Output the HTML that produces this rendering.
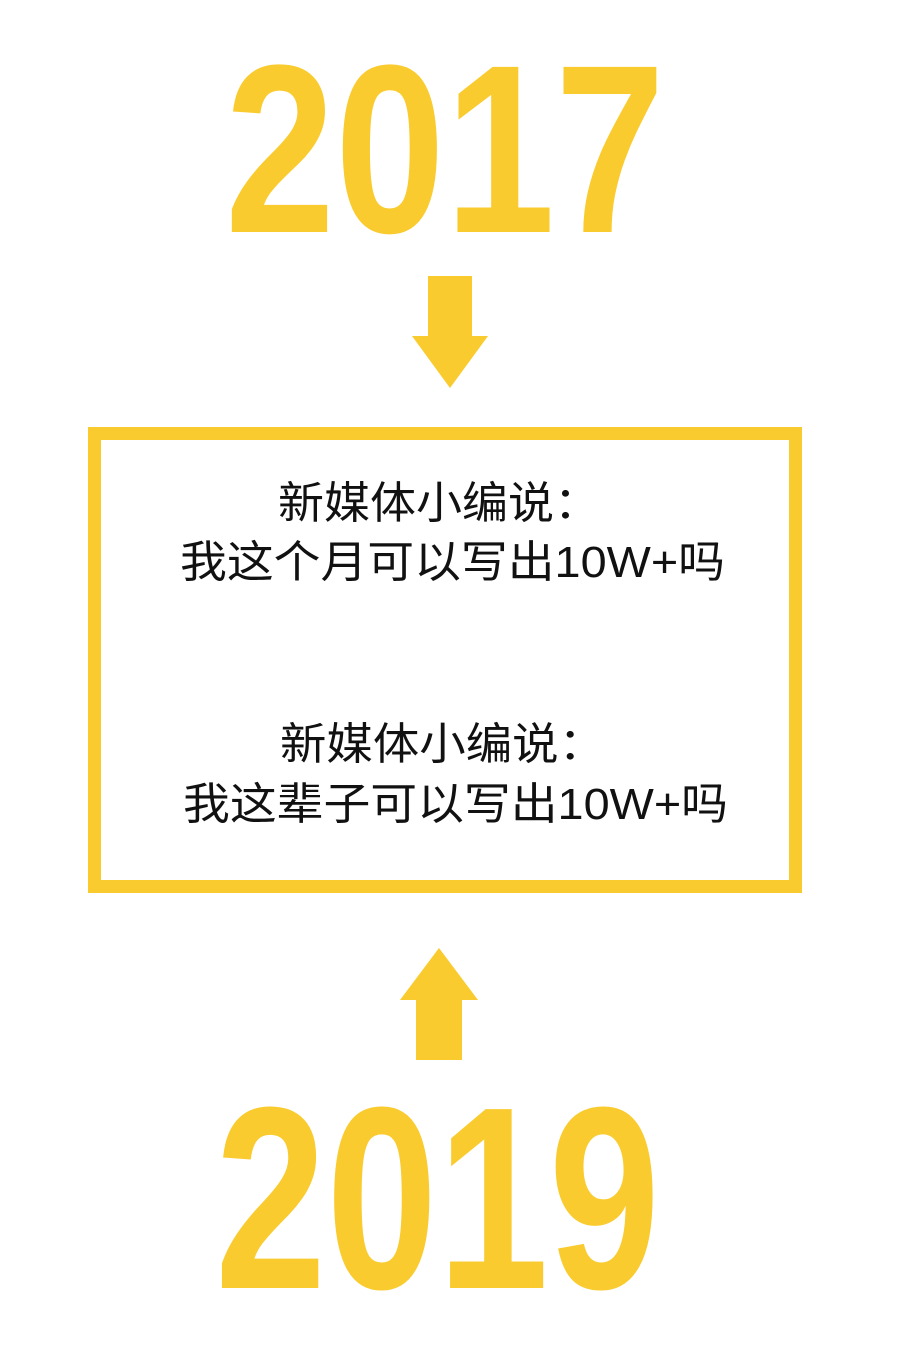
<!DOCTYPE html>
<html><head><meta charset="utf-8"><style>
html,body{margin:0;padding:0;background:#fff;width:900px;height:1350px;overflow:hidden}
</style></head><body>
<svg width="900" height="1350" viewBox="0 0 900 1350" xmlns="http://www.w3.org/2000/svg">
<rect width="900" height="1350" fill="#fff"/>
<g fill="#F9CB2E">
<text x="225" y="232" font-family="Liberation Sans, sans-serif" font-weight="bold" font-size="240" textLength="440" lengthAdjust="spacingAndGlyphs">2017</text>
<rect x="428" y="276" width="44" height="62"/>
<polygon points="412,336 488,336 450,388"/>
<polygon points="400,1000 478,1000 439,948"/>
<rect x="416" y="998" width="46" height="62"/>
<text x="215" y="1288" font-family="Liberation Sans, sans-serif" font-weight="bold" font-size="260" textLength="445" lengthAdjust="spacingAndGlyphs">2019</text>
</g>
<rect x="94.5" y="433.5" width="701" height="453" fill="none" stroke="#F9CB2E" stroke-width="13"/>
<g font-family="Liberation Sans, 'WenQuanYi Zen Hei', 'Noto Sans CJK SC', sans-serif" font-size="44" fill="#111">
<text x="278" y="518" textLength="322" lengthAdjust="spacingAndGlyphs">新媒体小编说：</text>
<text x="180" y="577" textLength="545" lengthAdjust="spacingAndGlyphs">我这个月可以写出10W+吗</text>
<text x="280" y="759" textLength="325" lengthAdjust="spacingAndGlyphs">新媒体小编说：</text>
<text x="183" y="819" textLength="545" lengthAdjust="spacingAndGlyphs">我这辈子可以写出10W+吗</text>
</g>
</svg>
</body></html>
